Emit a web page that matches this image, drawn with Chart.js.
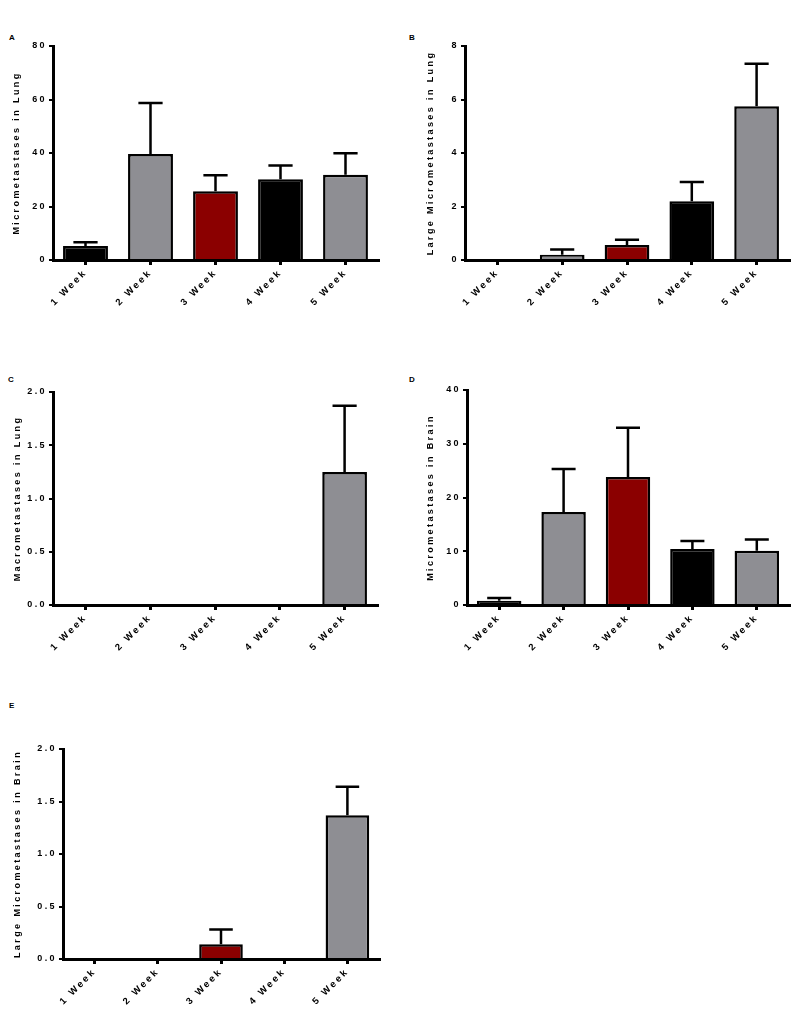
<!DOCTYPE html>
<html>
<head>
<meta charset="utf-8">
<script src="https://cdn.jsdelivr.net/npm/chart.js@4.4.1/dist/chart.umd.min.js"></script>
<style>
  html, body { margin: 0; padding: 0; background: #fff; }
  body { width: 795px; height: 1015px; position: relative; overflow: hidden; }
  canvas { position: absolute; }
  .panel-letter {
    position: absolute;
    font: bold 8px "Liberation Sans", Arial, sans-serif;
    color: #000;
  }
</style>
</head>
<body>
<div class="panel-letter" style="left:9px;top:33px">A</div>
<div class="panel-letter" style="left:409px;top:33px">B</div>
<div class="panel-letter" style="left:8px;top:375px">C</div>
<div class="panel-letter" style="left:409px;top:375px">D</div>
<div class="panel-letter" style="left:9px;top:701px">E</div>

<canvas id="chartA" width="395" height="315" style="left:0;top:30px"></canvas>
<canvas id="chartB" width="395" height="315" style="left:400px;top:30px"></canvas>
<canvas id="chartC" width="395" height="315" style="left:0;top:360px"></canvas>
<canvas id="chartD" width="395" height="315" style="left:400px;top:360px"></canvas>
<canvas id="chartE" width="395" height="325" style="left:0;top:690px"></canvas>

<script>
// categories + bar colours (same for every panel)
const weeks = ['1 Week', '2 Week', '3 Week', '4 Week', '5 Week'];
const barColors = ['#000000', '#8e8e93', '#8b0000', '#000000', '#8e8e93'];

// A - micrometastases in lung (mean, upper SEM)
const lungMicroMean = [5.2, 39.6, 25.7, 30.2, 31.9];
const lungMicroSem = [1.4, 19.1, 6.0, 5.1, 8.0];
// B - large micrometastases in lung
const lungLargeMean = [0, 0.2, 0.56, 2.2, 5.75];
const lungLargeSem = [0, 0.19, 0.2, 0.72, 1.59];
// C - macrometastases in lung
const lungMacroMean = [0, 0, 0, 0, 1.25];
const lungMacroSem = [0, 0, 0, 0, 0.62];
// D - micrometastases in brain
const brainMicroMean = [0.8, 17.3, 23.8, 10.4, 10.1];
const brainMicroSem = [0.5, 8.0, 9.2, 1.5, 2.1];
// E - large micrometastases in brain
const brainLargeMean = [0, 0, 0.14, 0, 1.37];
const brainLargeSem = [0, 0, 0.14, 0, 0.27];

const FONT = '"Liberation Sans", Arial, sans-serif';

// error bars (upward only) drawn through the chart's own scales
const errorBarPlugin = {
    id: 'errorBars',
    afterDatasetsDraw(chart) {
        const ctx = chart.ctx;
        const yScale = chart.scales.y;
        const meta = chart.getDatasetMeta(0);
        const errs = chart.data.datasets[0].errors;
        const vals = chart.data.datasets[0].data;
        ctx.save();
        ctx.strokeStyle = '#000';
        ctx.lineWidth = 2.5;
        meta.data.forEach((bar, i) => {
            if (!errs[i]) return;
            const x = bar.x;
            const yTop = yScale.getPixelForValue(vals[i]);
            const yErr = yScale.getPixelForValue(vals[i] + errs[i]);
            const half = bar.width * 0.27;
            ctx.beginPath();
            ctx.moveTo(x, yTop);
            ctx.lineTo(x, yErr);
            ctx.moveTo(x - half, yErr);
            ctx.lineTo(x + half, yErr);
            ctx.stroke();
        });
        ctx.restore();
    }
};

const spacingPlugin = {
    id: 'letterSpacing',
    beforeDraw(chart) {
        chart.ctx.letterSpacing = '2.4px';
    }
};

function makePanel(canvasId, means, sems, yTitle, yMax, yStep, decimals, area, titleX) {
    const canvas = document.getElementById(canvasId);
    const W = canvas.width, H = canvas.height;

    return new Chart(canvas, {
        type: 'bar',
        data: {
            labels: weeks,
            datasets: [{
                data: means,
                errors: sems,
                backgroundColor: barColors,
                borderColor: '#000',
                borderWidth: 2.5,
                barPercentage: 0.69,
                categoryPercentage: 1.0,
            }]
        },
        options: {
            responsive: false,
            animation: false,
            events: [],
            layout: {
                padding: { left: 0, top: area.top, right: W - area.right, bottom: 0 }
            },
            plugins: {
                legend: { display: false },
                tooltip: { enabled: false },
            },
            scales: {
                x: {
                    offset: true,
                    grid: {
                        offset: false,
                        drawOnChartArea: false,
                        drawTicks: true,
                        tickLength: 5,
                        lineWidth: 3,
                        color: '#000',
                    },
                    border: { display: true, color: '#000', width: 3 },
                    ticks: {
                        autoSkip: false,
                        minRotation: 45,
                        maxRotation: 45,
                        padding: 2,
                        color: '#000',
                        font: { family: FONT, size: 9.5, weight: 'bold' },
                    },
                    afterFit(scale) { scale.height = H - area.bottom; }
                },
                y: {
                    min: 0,
                    max: yMax,
                    grid: {
                        drawOnChartArea: false,
                        drawTicks: true,
                        tickLength: 4,
                        lineWidth: 2,
                        color: '#000',
                    },
                    border: { display: true, color: '#000', width: 3 },
                    ticks: {
                        stepSize: yStep,
                        padding: 2,
                        color: '#000',
                        font: { family: FONT, size: 9, weight: 'bold' },
                        callback: v => v.toFixed(decimals),
                    },
                    title: {
                        display: true,
                        text: yTitle,
                        color: '#000',
                        font: { family: FONT, size: 9, weight: 'bold' },
                        padding: { top: titleX - 5.4, bottom: 0 },
                    },
                    afterFit(scale) { scale.width = area.left; }
                }
            }
        },
        plugins: [spacingPlugin, errorBarPlugin]
    });
}

makePanel('chartA', lungMicroMean, lungMicroSem, 'Micrometastases in Lung', 80, 20, 0,
    { left: 53, right: 378, top: 16, bottom: 230 }, 17);
makePanel('chartB', lungLargeMean, lungLargeSem, 'Large Micrometastases in Lung', 8, 2, 0,
    { left: 65, right: 389, top: 16, bottom: 230 }, 31);
makePanel('chartC', lungMacroMean, lungMacroSem, 'Macrometastases in Lung', 2, 0.5, 1,
    { left: 53, right: 377, top: 32, bottom: 245 }, 18);
makePanel('chartD', brainMicroMean, brainMicroSem, 'Micrometastases in Brain', 40, 10, 0,
    { left: 67, right: 389, top: 30, bottom: 245 }, 31);
makePanel('chartE', brainLargeMean, brainLargeSem, 'Large Micrometastases in Brain', 2, 0.5, 1,
    { left: 63, right: 379, top: 59, bottom: 269 }, 17.5);
</script>
</body>
</html>
